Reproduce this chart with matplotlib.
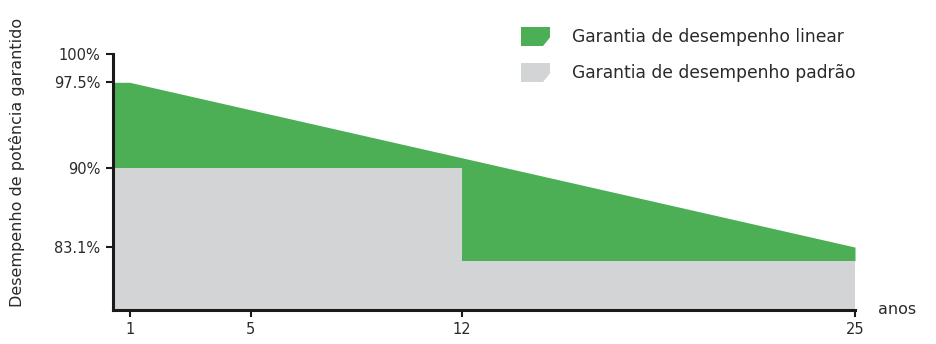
import matplotlib.pyplot as plt
from matplotlib.patches import Polygon

# values (percent of guaranteed power)
years = [0.45, 1, 5, 12, 25]
linear_guarantee = [97.5, 97.5, 95.1, 90.9, 83.1]
standard_years = [0.45, 12, 12, 25]
standard_guarantee = [90.0, 90.0, 81.9, 81.9]

ytick_values = [83.1, 90, 97.5, 100]
ytick_labels = ['83.1%', '90%', '97.5%', '100%']
xtick_values = [1, 5, 12, 25]

green = '#4caf55'
gray = '#d3d4d6'
text_color = '#2a2a2a'

W, H = 937, 344
fig = plt.figure(figsize=(W / 100, H / 100), dpi=100)
ax = fig.add_axes([113 / W, 1 - 310 / H, (855 - 113) / W, (310 - 53.7) / H])

# green area down to the standard guarantee line
std_at_years = [90.0, 90.0, 90.0, 81.9, 81.9]
ax.fill_between(years, std_at_years, linear_guarantee, color=green, lw=0)
ax.fill_between(standard_years, 70, standard_guarantee, color=gray, lw=0)

ax.set_xlim(years[0], 25)
ax.set_ylim(77.6, 100)

for side in ['top', 'right']:
    ax.spines[side].set_visible(False)
for side in ['left', 'bottom']:
    ax.spines[side].set_linewidth(2.2)
    ax.spines[side].set_color('#1a1a1a')
    ax.spines[side].set_zorder(5)

ax.set_yticks(ytick_values)
ax.set_yticklabels(ytick_labels)
ax.set_xticks(xtick_values)
ax.tick_params(axis='both', direction='out', length=5, width=1.5, color='#1a1a1a',
               labelsize=10.5, labelcolor=text_color, pad=4)

ax.set_ylabel('Desempenho de potência garantido', fontsize=11.5, color=text_color)
ax.yaxis.set_label_coords(-0.119, 0.574)
fig.text(878 / W, 1 - 310 / H, 'anos', fontsize=11.5, color=text_color, va='center')

# legend with cut-corner swatches
def swatch(y_top, color):
    x0, x1, h = 521, 550, 19
    pts = [(x0, y_top), (x1, y_top), (x1, y_top + h * 0.55), (x1 - 7, y_top + h), (x0, y_top + h)]
    pts = [(x / W, 1 - y / H) for x, y in pts]
    fig.patches.append(Polygon(pts, closed=True, color=color, lw=0, transform=fig.transFigure))

swatch(27, green)
swatch(63, gray)
fig.text(572 / W, 1 - 37 / H, 'Garantia de desempenho linear', fontsize=12.3, color=text_color, va='center')
fig.text(572 / W, 1 - 73 / H, 'Garantia de desempenho padrão', fontsize=12.3, color=text_color, va='center')

fig.savefig('out.png', dpi=100)
